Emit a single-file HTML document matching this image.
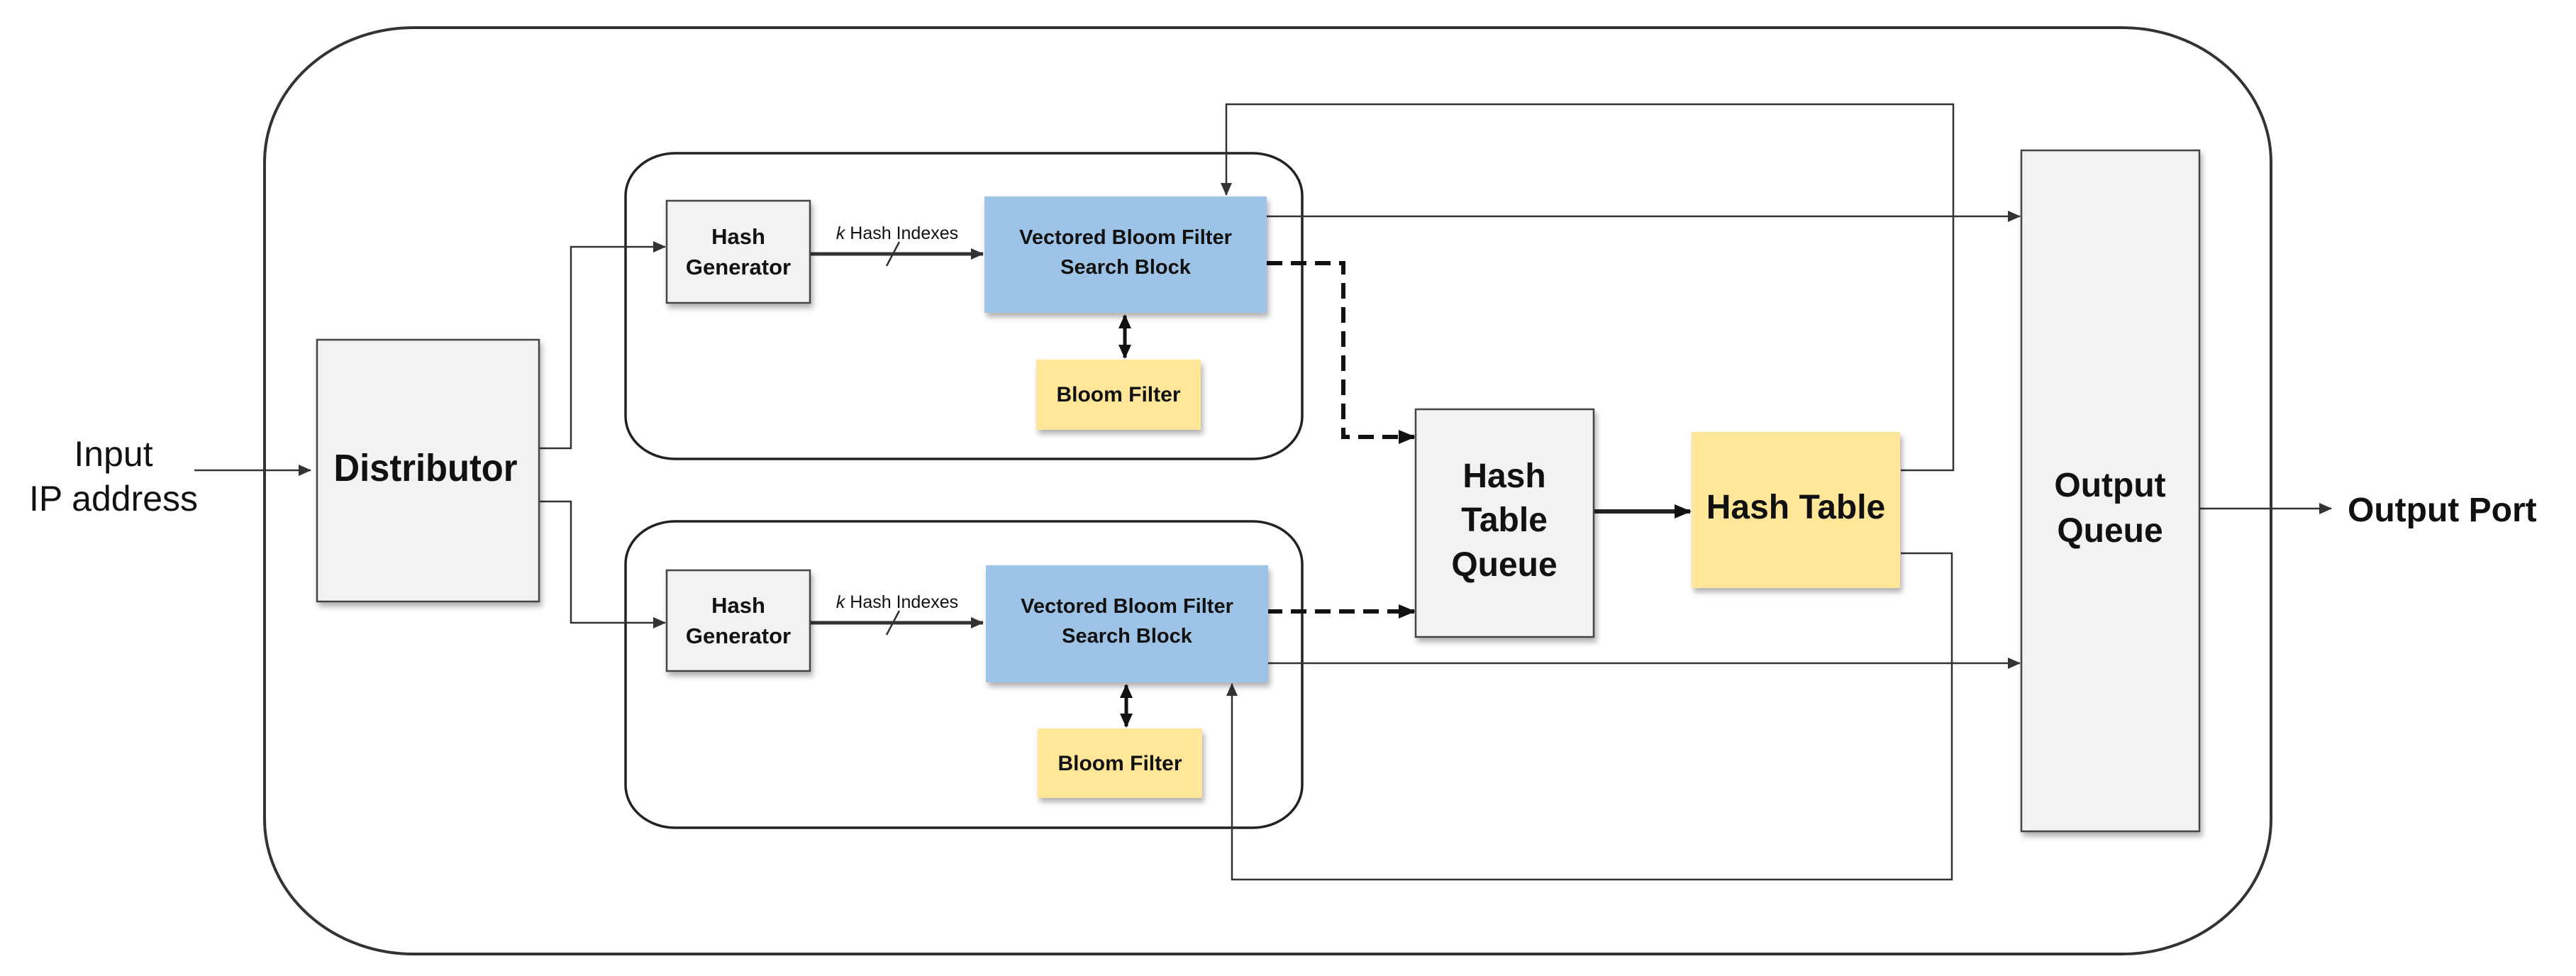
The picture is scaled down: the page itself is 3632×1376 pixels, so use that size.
<!DOCTYPE html>
<html><head><meta charset="utf-8"><style>
html,body{margin:0;padding:0;background:#fff;}
svg{display:block;}
text{font-family:"Liberation Sans",sans-serif;fill:#111;}
</style></head><body>
<svg width="3632" height="1376" viewBox="0 0 3632 1376" xmlns="http://www.w3.org/2000/svg">
<defs>
<marker id="a" markerWidth="18" markerHeight="16" refX="17" refY="8" orient="auto" markerUnits="userSpaceOnUse"><path d="M0,0 L18,8 L0,16 z" fill="#333"/></marker>
<marker id="ab" markerWidth="24" markerHeight="20" refX="22" refY="10" orient="auto" markerUnits="userSpaceOnUse"><path d="M0,0 L24,10 L0,20 z" fill="#111"/></marker>
<marker id="as" markerWidth="20" markerHeight="18" refX="18" refY="9" orient="auto-start-reverse" markerUnits="userSpaceOnUse"><path d="M0,0 L20,9 L0,18 z" fill="#111"/></marker>
<filter id="sh" x="-10%" y="-10%" width="130%" height="130%"><feDropShadow dx="3" dy="6" stdDeviation="4" flood-color="#000" flood-opacity="0.3"/></filter>
</defs>

<rect x="373" y="39" width="2829" height="1306" rx="210" ry="190" fill="none" stroke="#333" stroke-width="4"/>
<rect x="882" y="216" width="954" height="431" rx="70" ry="60" fill="none" stroke="#222" stroke-width="3.5"/>
<rect x="882" y="735" width="954" height="432" rx="70" ry="60" fill="none" stroke="#222" stroke-width="3.5"/>

<g stroke="#333" stroke-width="2.5" fill="none">
<line x1="274" y1="663" x2="438" y2="663" marker-end="url(#a)"/>
<polyline points="760,632 805,632 805,348 938,348" marker-end="url(#a)"/>
<polyline points="760,707 805,707 805,878 938,878" marker-end="url(#a)"/>
<line x1="1786" y1="305" x2="2848" y2="305" marker-end="url(#a)"/>
<line x1="1786" y1="935" x2="2848" y2="935" marker-end="url(#a)"/>
<polyline points="2680,663 2754,663 2754,147 1729,147 1729,275" marker-end="url(#a)"/>
<polyline points="2680,780 2752,780 2752,1240 1737,1240 1737,964" marker-end="url(#a)"/>
<line x1="3101" y1="717" x2="3287" y2="717" marker-end="url(#a)"/>
</g>
<g stroke="#333" stroke-width="5" fill="none">
<line x1="1142" y1="358" x2="1386" y2="358" marker-end="url(#a)"/>
<line x1="1142" y1="878" x2="1386" y2="878" marker-end="url(#a)"/>
</g>
<g stroke="#333" stroke-width="2.5">
<line x1="1250" y1="375" x2="1268" y2="341"/>
<line x1="1250" y1="895" x2="1268" y2="861"/>
</g>
<g stroke="#111" stroke-width="5" fill="none">
<line x1="1586" y1="445" x2="1586" y2="504" marker-start="url(#as)" marker-end="url(#as)"/>
<line x1="1588" y1="966" x2="1588" y2="1024" marker-start="url(#as)" marker-end="url(#as)"/>
</g>
<g stroke="#111" stroke-width="6" fill="none" stroke-dasharray="22,12">
<polyline points="1786,371 1894,371 1894,616 1994,616" marker-end="url(#ab)"/>
<line x1="1786" y1="862" x2="1994" y2="862" marker-end="url(#ab)"/>
</g>
<line x1="2247" y1="721" x2="2383" y2="721" stroke="#222" stroke-width="6" marker-end="url(#ab)"/>

<g filter="url(#sh)" stroke="#444" stroke-width="2.5">
<rect x="447" y="479" width="313" height="369" fill="#f2f2f2"/>
<rect x="940" y="283" width="202" height="144" fill="#f2f2f2"/>
<rect x="940" y="804" width="202" height="142" fill="#f2f2f2"/>
<rect x="1996" y="577" width="251" height="321" fill="#f2f2f2"/>
<rect x="2850" y="212" width="251" height="960" fill="#f2f2f2"/>
</g>
<g filter="url(#sh)">
<rect x="1388" y="277" width="398" height="164" fill="#9dc3e6"/>
<rect x="1390" y="797" width="398" height="165" fill="#9dc3e6"/>
<rect x="1461" y="507" width="232" height="99" fill="#ffe699"/>
<rect x="1463" y="1027" width="232" height="98" fill="#ffe699"/>
<rect x="2385" y="609" width="294" height="220" fill="#ffe699"/>
</g>

<g text-anchor="middle">
<text x="160" y="657" font-size="50">Input</text>
<text x="160" y="720" font-size="50">IP address</text>
<text x="600" y="678" font-size="54" font-weight="bold" textLength="259" lengthAdjust="spacingAndGlyphs">Distributor</text>
<text x="1041" y="344" font-size="31" font-weight="bold">Hash</text>
<text x="1041" y="387" font-size="31" font-weight="bold">Generator</text>
<text x="1041" y="864" font-size="31" font-weight="bold">Hash</text>
<text x="1041" y="907" font-size="31" font-weight="bold">Generator</text>
<text x="1587" y="344" font-size="29" font-weight="bold">Vectored Bloom Filter</text>
<text x="1587" y="386" font-size="29" font-weight="bold">Search Block</text>
<text x="1589" y="864" font-size="29" font-weight="bold">Vectored Bloom Filter</text>
<text x="1589" y="906" font-size="29" font-weight="bold">Search Block</text>
<text x="1577" y="566" font-size="30" font-weight="bold">Bloom Filter</text>
<text x="1579" y="1086" font-size="30" font-weight="bold">Bloom Filter</text>
<text x="1265" y="337" font-size="25"><tspan font-style="italic">k</tspan> Hash Indexes</text>
<text x="1265" y="857" font-size="25"><tspan font-style="italic">k</tspan> Hash Indexes</text>
<text x="2121" y="687" font-size="48" font-weight="bold">Hash</text>
<text x="2121" y="749" font-size="48" font-weight="bold">Table</text>
<text x="2121" y="812" font-size="48" font-weight="bold">Queue</text>
<text x="2532" y="731" font-size="48" font-weight="bold">Hash Table</text>
<text x="2975" y="700" font-size="48" font-weight="bold">Output</text>
<text x="2975" y="764" font-size="48" font-weight="bold">Queue</text>
</g>
<text x="3310" y="735" font-size="48" font-weight="bold">Output Port</text>
</svg>
</body></html>
